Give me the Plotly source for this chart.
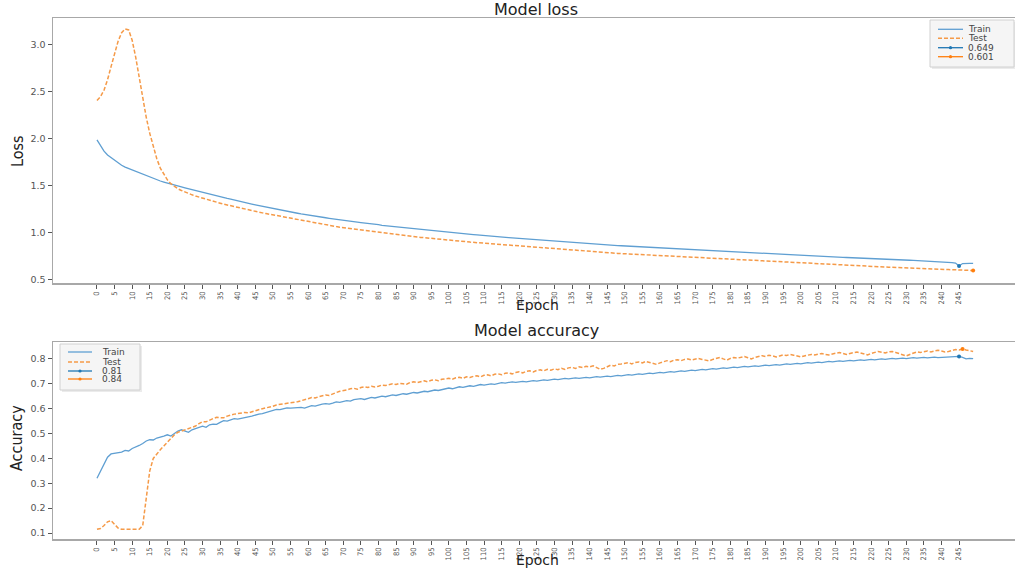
import plotly.graph_objects as go

# ---------------- data ----------------
epochs = list(range(250))

loss_train = [
    1.99, 1.93, 1.87, 1.83, 1.80, 1.77, 1.745, 1.72, 1.70, 1.685,
    1.67, 1.655, 1.64, 1.625, 1.605, 1.59, 1.578, 1.565, 1.553, 1.542,
    1.53, 1.52, 1.51, 1.50, 1.49, 1.48, 1.47, 1.46, 1.452, 1.443,
    1.435, 1.425, 1.417, 1.405, 1.395, 1.385, 1.375, 1.368, 1.36, 1.35,
    1.34, 1.333, 1.325, 1.318, 1.308, 1.30, 1.292, 1.285, 1.275, 1.268,
    1.258, 1.252, 1.245, 1.238, 1.23, 1.222, 1.215, 1.21, 1.203, 1.196,
    1.19, 1.185, 1.178, 1.172, 1.166, 1.162, 1.156, 1.15, 1.146, 1.14,
    1.135, 1.13, 1.126, 1.12, 1.115, 1.11, 1.107, 1.10, 1.097, 1.092,
    1.088, 1.082, 1.078, 1.075, 1.07, 1.066, 1.062, 1.056, 1.052, 1.048,
    1.045, 1.04, 1.036, 1.033, 1.03, 1.026, 1.022, 1.018, 1.015, 1.01,
    1.007, 1.004, 1.0, 0.996, 0.993, 0.99, 0.986, 0.983, 0.98, 0.976,
    0.973, 0.97, 0.967, 0.964, 0.96, 0.957, 0.954, 0.951, 0.948, 0.945,
    0.942, 0.939, 0.936, 0.933, 0.93, 0.927, 0.924, 0.921, 0.918, 0.915,
    0.913, 0.91, 0.907, 0.904, 0.902, 0.899, 0.896, 0.894, 0.891, 0.888,
    0.886, 0.883, 0.881, 0.878, 0.876, 0.873, 0.871, 0.868, 0.866, 0.864,
    0.862, 0.859, 0.857, 0.855, 0.852, 0.85, 0.848, 0.846, 0.843, 0.841,
    0.839, 0.837, 0.835, 0.832, 0.83, 0.828, 0.826, 0.824, 0.822, 0.82,
    0.818, 0.816, 0.814, 0.812, 0.81, 0.808, 0.806, 0.804, 0.802, 0.8,
    0.798, 0.796, 0.794, 0.792, 0.79, 0.788, 0.786, 0.785, 0.783, 0.781,
    0.779, 0.777, 0.775, 0.774, 0.772, 0.77, 0.768, 0.766, 0.765, 0.763,
    0.761, 0.759, 0.757, 0.756, 0.754, 0.752, 0.75, 0.749, 0.747, 0.745,
    0.744, 0.742, 0.74, 0.739, 0.737, 0.735, 0.734, 0.732, 0.73, 0.729,
    0.727, 0.726, 0.724, 0.722, 0.721, 0.719, 0.718, 0.716, 0.715, 0.713,
    0.712, 0.71, 0.709, 0.707, 0.706, 0.704, 0.703, 0.701, 0.7, 0.698,
    0.697, 0.695, 0.69, 0.685, 0.68, 0.649, 0.675, 0.68, 0.677, 0.676,
]

loss_test = [
    2.41, 2.45, 2.52, 2.63, 2.77, 2.90, 3.04, 3.13, 3.17, 3.16,
    3.05, 2.87, 2.66, 2.43, 2.23, 2.06, 1.91, 1.79, 1.69, 1.62,
    1.565, 1.525, 1.495, 1.47, 1.452, 1.435, 1.42, 1.406, 1.393, 1.381,
    1.369, 1.358, 1.347, 1.337, 1.327, 1.317, 1.307, 1.298, 1.289, 1.28,
    1.271, 1.262, 1.254, 1.246, 1.238, 1.23, 1.222, 1.214, 1.207, 1.2,
    1.192, 1.184, 1.176, 1.168, 1.16, 1.152, 1.145, 1.138, 1.131, 1.124,
    1.117, 1.111, 1.104, 1.098, 1.091, 1.085, 1.079, 1.073, 1.068, 1.062,
    1.057, 1.051, 1.046, 1.04, 1.035, 1.03, 1.025, 1.02, 1.015, 1.01,
    1.006, 1.0, 0.996, 0.993, 0.988, 0.984, 0.98, 0.974, 0.97, 0.966,
    0.962, 0.957, 0.953, 0.95, 0.947, 0.943, 0.939, 0.935, 0.932, 0.927,
    0.924, 0.921, 0.917, 0.913, 0.91, 0.907, 0.903, 0.9, 0.897, 0.893,
    0.89, 0.887, 0.884, 0.881, 0.877, 0.874, 0.871, 0.868, 0.865, 0.862,
    0.859, 0.856, 0.853, 0.85, 0.847, 0.844, 0.841, 0.838, 0.835, 0.832,
    0.83, 0.827, 0.824, 0.821, 0.819, 0.816, 0.813, 0.811, 0.808, 0.805,
    0.803, 0.8, 0.798, 0.795, 0.793, 0.79, 0.788, 0.785, 0.783, 0.781,
    0.779, 0.776, 0.774, 0.772, 0.769, 0.767, 0.765, 0.763, 0.76, 0.758,
    0.756, 0.754, 0.752, 0.749, 0.747, 0.745, 0.743, 0.741, 0.739, 0.737,
    0.735, 0.733, 0.731, 0.729, 0.727, 0.725, 0.723, 0.721, 0.719, 0.717,
    0.715, 0.713, 0.711, 0.709, 0.707, 0.705, 0.703, 0.702, 0.7, 0.698,
    0.696, 0.694, 0.692, 0.691, 0.689, 0.687, 0.685, 0.683, 0.682, 0.68,
    0.678, 0.676, 0.674, 0.673, 0.671, 0.669, 0.667, 0.666, 0.664, 0.662,
    0.661, 0.659, 0.657, 0.656, 0.654, 0.652, 0.651, 0.649, 0.647, 0.646,
    0.644, 0.643, 0.641, 0.639, 0.638, 0.636, 0.635, 0.633, 0.632, 0.63,
    0.629, 0.627, 0.626, 0.624, 0.623, 0.621, 0.62, 0.618, 0.617, 0.615,
    0.614, 0.612, 0.611, 0.61, 0.609, 0.608, 0.606, 0.605, 0.603, 0.601,
]

acc_train = [
    0.32, 0.35, 0.38, 0.405, 0.418, 0.42, 0.42, 0.425, 0.432, 0.43,
    0.44, 0.445, 0.452, 0.46, 0.47, 0.475, 0.474, 0.482, 0.485, 0.49,
    0.495, 0.49, 0.50, 0.51, 0.515, 0.51, 0.505, 0.515, 0.52, 0.525,
    0.53, 0.525, 0.535, 0.538, 0.537, 0.545, 0.552, 0.55, 0.555, 0.56,
    0.558, 0.56, 0.563, 0.567, 0.57, 0.575, 0.578, 0.58, 0.585, 0.59,
    0.595, 0.597, 0.596, 0.6, 0.603, 0.602, 0.604, 0.603, 0.605, 0.602,
    0.608, 0.612, 0.61, 0.615, 0.618, 0.62, 0.618, 0.622, 0.627, 0.625,
    0.63, 0.632, 0.63, 0.636, 0.638, 0.64, 0.637, 0.641, 0.645, 0.643,
    0.647, 0.65, 0.648, 0.652, 0.655, 0.653, 0.657, 0.66, 0.658, 0.662,
    0.665, 0.663, 0.667, 0.67, 0.668, 0.672, 0.675, 0.673, 0.677, 0.68,
    0.683, 0.68, 0.685, 0.688, 0.686, 0.69, 0.692, 0.69, 0.694, 0.697,
    0.695, 0.698, 0.7, 0.698, 0.702, 0.705, 0.703, 0.706, 0.708, 0.706,
    0.708, 0.71, 0.708, 0.711, 0.713, 0.711, 0.714, 0.716, 0.714, 0.717,
    0.719, 0.717, 0.72, 0.722, 0.72, 0.722, 0.724, 0.722, 0.725, 0.726,
    0.724, 0.727, 0.729, 0.727, 0.73, 0.731, 0.729, 0.732, 0.734, 0.732,
    0.735, 0.737, 0.735, 0.738, 0.74, 0.738, 0.741, 0.743, 0.741, 0.744,
    0.746, 0.744, 0.747, 0.749, 0.747, 0.75, 0.752, 0.75, 0.753, 0.755,
    0.753, 0.756, 0.758, 0.756, 0.759, 0.761, 0.759, 0.762, 0.764, 0.762,
    0.765, 0.767, 0.765, 0.768, 0.77, 0.768, 0.771, 0.772, 0.77, 0.773,
    0.775, 0.773, 0.776, 0.777, 0.775, 0.778, 0.78, 0.778, 0.78, 0.782,
    0.78, 0.783, 0.785, 0.783, 0.786, 0.787, 0.785, 0.788, 0.79, 0.788,
    0.79, 0.792, 0.79, 0.793, 0.794, 0.792, 0.795, 0.796, 0.794, 0.796,
    0.798, 0.796, 0.798, 0.8, 0.798, 0.8, 0.802, 0.8, 0.802, 0.803,
    0.801, 0.803, 0.805, 0.803, 0.805, 0.806, 0.804, 0.806, 0.807, 0.805,
    0.806, 0.808, 0.806, 0.807, 0.809, 0.81, 0.806, 0.8, 0.802, 0.801,
]

acc_test = [
    0.115, 0.118, 0.13, 0.145, 0.15, 0.135, 0.12, 0.115, 0.115, 0.115,
    0.115, 0.115, 0.115, 0.13, 0.24, 0.35, 0.40, 0.42, 0.435, 0.45,
    0.465, 0.48, 0.495, 0.505, 0.51, 0.515, 0.52, 0.527, 0.53, 0.54,
    0.548, 0.547, 0.555, 0.56, 0.565, 0.565, 0.563, 0.57, 0.575, 0.578,
    0.58, 0.582, 0.585, 0.583, 0.588, 0.592, 0.595, 0.6, 0.603, 0.605,
    0.61, 0.615, 0.617, 0.62, 0.622, 0.625, 0.624, 0.628, 0.632, 0.635,
    0.64, 0.645, 0.643, 0.648, 0.652, 0.655, 0.653, 0.66, 0.665, 0.67,
    0.672, 0.675, 0.68, 0.682, 0.678, 0.685, 0.688, 0.685, 0.69, 0.687,
    0.69, 0.695, 0.693, 0.698, 0.7, 0.697, 0.702, 0.7, 0.698, 0.705,
    0.708, 0.705, 0.71, 0.712, 0.708, 0.714, 0.716, 0.712, 0.718, 0.72,
    0.722, 0.718, 0.724, 0.726, 0.722, 0.728, 0.725, 0.73, 0.732, 0.728,
    0.734, 0.736, 0.732, 0.738, 0.74, 0.736, 0.742, 0.744, 0.74, 0.745,
    0.748, 0.744, 0.75, 0.752, 0.748, 0.754, 0.756, 0.752, 0.758, 0.755,
    0.76, 0.757, 0.762, 0.758, 0.764, 0.766, 0.762, 0.768, 0.765, 0.77,
    0.768, 0.772, 0.766, 0.758, 0.762, 0.77, 0.775, 0.772, 0.778, 0.78,
    0.783, 0.785, 0.78, 0.786, 0.788, 0.784, 0.79, 0.787, 0.782, 0.778,
    0.784, 0.79, 0.793, 0.789, 0.795, 0.797, 0.793, 0.798, 0.8, 0.796,
    0.8, 0.802, 0.798, 0.795, 0.792, 0.798, 0.803, 0.806, 0.8, 0.795,
    0.802, 0.806, 0.803, 0.808, 0.81, 0.805, 0.8, 0.806, 0.81, 0.813,
    0.81, 0.815, 0.812, 0.808, 0.812, 0.816, 0.814, 0.818, 0.815, 0.812,
    0.808, 0.812, 0.815, 0.818, 0.816, 0.82, 0.822, 0.818, 0.816, 0.82,
    0.823, 0.826, 0.822, 0.818, 0.822, 0.826, 0.828, 0.824, 0.82, 0.816,
    0.822, 0.826, 0.83, 0.827, 0.824, 0.828, 0.83, 0.826, 0.822, 0.818,
    0.812, 0.818, 0.824, 0.828, 0.826, 0.83, 0.832, 0.828, 0.832, 0.835,
    0.832, 0.828, 0.83, 0.834, 0.838, 0.836, 0.84, 0.836, 0.832, 0.83,
]

# best-value markers (epoch, label)
loss_best_epochs = [245, 249]
loss_best_labels = ["0.649", "0.601"]
acc_best_epochs = [245, 246]
acc_best_labels = ["0.81", "0.84"]
series_names = ["Train", "Test"]

x_tick_vals = list(range(0, 250, 5))
x_tick_text = [str(v) for v in x_tick_vals]
loss_ticks = [0.5, 1.0, 1.5, 2.0, 2.5, 3.0]
acc_ticks = [0.1, 0.2, 0.3, 0.4, 0.5, 0.6, 0.7, 0.8]

# ---------------- styling ----------------
BLUE = "#5f9fd2"
ORANGE = "#f59a48"
DARK_BLUE = "#1f77b4"
DARK_ORANGE = "#ff7f0e"
SPINE = "#a8a8a8"
DASH = "4px,2px"
W, H = 1015, 568


def px(X):
    return X / W


def py(Y):
    return 1 - Y / H


fig = go.Figure()


def add_panel(train, test, best_epochs, xa, ya):
    fig.add_trace(go.Scatter(x=epochs, y=train, mode="lines", name=series_names[0],
                             line=dict(color=BLUE, width=1.3), xaxis=xa, yaxis=ya))
    fig.add_trace(go.Scatter(x=epochs, y=test, mode="lines", name=series_names[1],
                             line=dict(color=ORANGE, width=1.5, dash=DASH),
                             xaxis=xa, yaxis=ya))
    series = [train, test]
    colors = [DARK_BLUE, DARK_ORANGE]
    for i in range(2):
        e = best_epochs[i]
        fig.add_trace(go.Scatter(x=[e], y=[series[i][e]], mode="markers",
                                 marker=dict(color=colors[i], size=4),
                                 xaxis=xa, yaxis=ya))


add_panel(loss_train, loss_test, loss_best_epochs, "x", "y")
add_panel(acc_train, acc_test, acc_best_epochs, "x2", "y2")

xcommon = dict(
    range=[-12.5, 260.9], tickmode="array", tickvals=x_tick_vals, ticktext=x_tick_text,
    tickangle=-90, ticks="outside", ticklen=4, tickcolor="#555", tickwidth=1,
    showline=True, linecolor=SPINE, linewidth=1.5, mirror=True,
    showgrid=False, zeroline=False, automargin=False,
    tickfont=dict(family="Liberation Sans Narrow, DejaVu Sans Condensed, Arial Narrow, sans-serif",
                  size=7.5, color="#555"),
)
ycommon = dict(
    ticks="outside", ticklen=4, tickcolor="#555", tickwidth=1,
    showline=True, linecolor=SPINE, linewidth=1.5, mirror=False,
    showgrid=False, zeroline=False, tickformat=".1f", automargin=False,
    tickfont=dict(family="DejaVu Sans, sans-serif", size=9.5, color="#555"),
)

fig.update_layout(
    width=W, height=H,
    margin=dict(l=0, r=0, t=0, b=0),
    paper_bgcolor="white", plot_bgcolor="white",
    showlegend=False, hovermode=False,
    xaxis=dict(domain=[px(53), 1.0], anchor="y", **xcommon),
    xaxis2=dict(domain=[px(53), 1.0], anchor="y2", **xcommon),
    yaxis=dict(domain=[py(283), py(18)], range=[0.468, 3.287],
               tickvals=loss_ticks, anchor="x", **ycommon),
    yaxis2=dict(domain=[py(539), py(342)], range=[0.076, 0.868],
                tickvals=acc_ticks, anchor="x2", **ycommon),
)

title_font = dict(family="DejaVu Sans, sans-serif", size=16, color="#222")
label_font = dict(family="DejaVu Sans, sans-serif", size=14, color="#222")
ylab_font = dict(family="Liberation Sans Narrow, DejaVu Sans Condensed, Arial Narrow, sans-serif",
                 size=16, color="#222")

annots = [
    dict(text="Model loss", x=px(536), y=py(9), font=title_font),
    dict(text="Model accuracy", x=px(536), y=py(331), font=title_font),
    dict(text="Epoch", x=px(537), y=py(305), font=label_font),
    dict(text="Epoch", x=px(537), y=py(560), font=label_font),
    dict(text="Loss", x=px(17), y=py(151), font=ylab_font, textangle=-90),
    dict(text="Accuracy", x=px(16), y=py(438), font=ylab_font, textangle=-90),
]
for a in annots:
    fig.add_annotation(xref="paper", yref="paper", showarrow=False,
                       xanchor="center", yanchor="middle", **a)

# ---------------- legends (matplotlib-like compact boxes) ----------------
leg_font = dict(family="DejaVu Sans, sans-serif", size=9, color="#444")


def draw_legend(box, rows, line_x, text_x, labels):
    x0, y0, x1, y1 = box
    fig.add_shape(type="rect", xref="paper", yref="paper",
                  x0=px(x0 + 2), x1=px(x1 + 2), y0=py(y1 + 2), y1=py(y0 + 2),
                  line=dict(width=0), fillcolor="rgba(0,0,0,0.08)", layer="above")
    fig.add_shape(type="rect", xref="paper", yref="paper",
                  x0=px(x0), x1=px(x1), y0=py(y1), y1=py(y0),
                  line=dict(color="#d0d0d0", width=1), fillcolor="rgba(246,246,246,0.95)",
                  layer="above")
    styles = [
        dict(color=BLUE, width=1.3, dash="solid"),
        dict(color=ORANGE, width=1.5, dash=DASH),
        dict(color=DARK_BLUE, width=1.3, dash="solid"),
        dict(color=DARK_ORANGE, width=1.3, dash="solid"),
    ]
    for i, (ry, lab) in enumerate(zip(rows, labels)):
        fig.add_shape(type="line", xref="paper", yref="paper",
                      x0=px(line_x[0]), x1=px(line_x[1]), y0=py(ry), y1=py(ry),
                      line=styles[i], layer="above")
        if i >= 2:
            cx = (line_x[0] + line_x[1]) / 2
            fig.add_shape(type="circle", xref="paper", yref="paper",
                          x0=px(cx - 1.6), x1=px(cx + 1.6), y0=py(ry + 1.6), y1=py(ry - 1.6),
                          line=dict(width=0), fillcolor=styles[i]["color"], layer="above")
        fig.add_annotation(xref="paper", yref="paper", showarrow=False,
                           x=px(text_x), y=py(ry), xanchor="left", yanchor="middle",
                           text=lab, font=leg_font)


draw_legend((930, 20, 1014, 67), [29.3, 38.3, 47.7, 56.7], (938, 963), 966,
            series_names + loss_best_labels)
draw_legend((60, 344, 140, 390), [352, 362, 371, 379], (68, 92), 100,
            series_names + acc_best_labels)

# the page body has a default 8px margin; remove it so the figure fills the window
fig.write_html("out.html", config={"displayModeBar": False, "staticPlot": True},
               post_script="document.body.style.margin='0';")
